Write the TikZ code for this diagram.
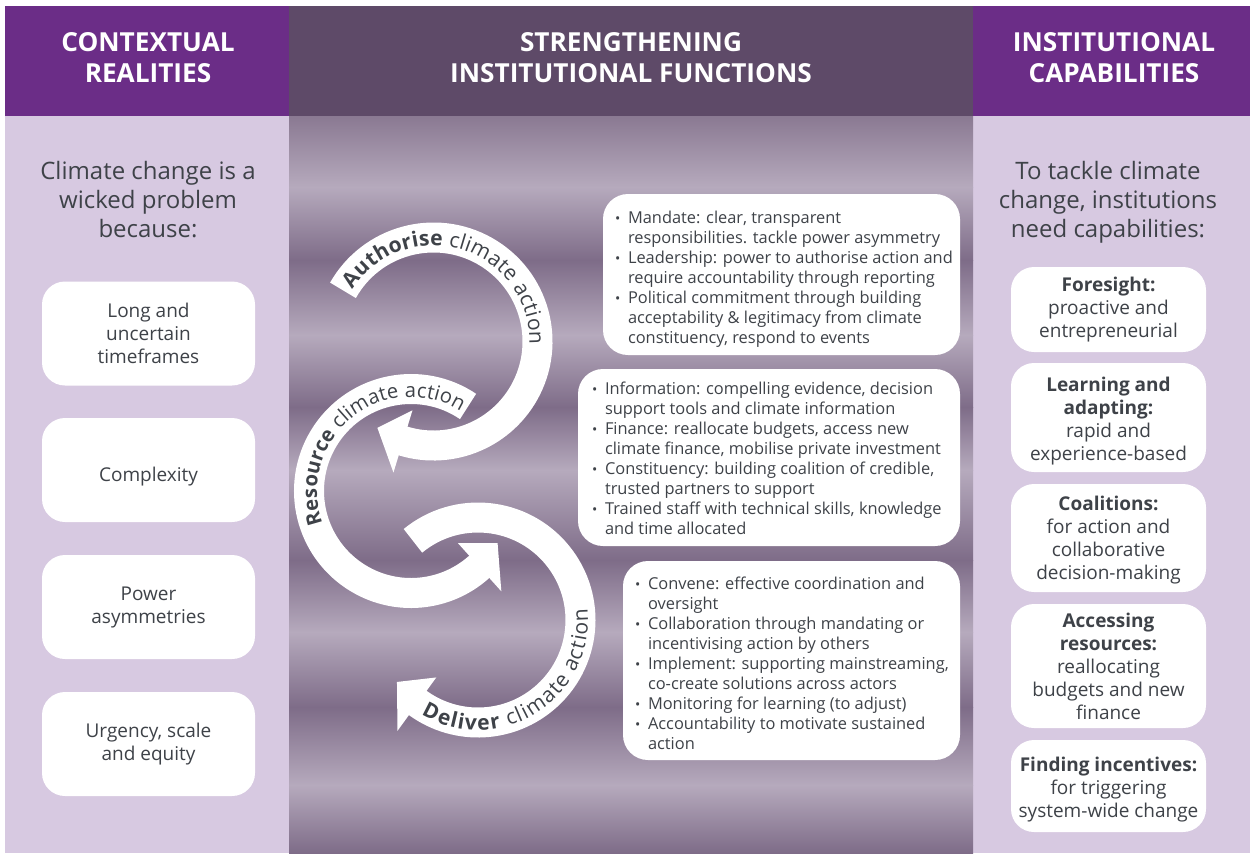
\documentclass[tikz,border=0pt]{standalone}
\usepackage{fontspec}
\setmainfont{Open Sans}
\usetikzlibrary{decorations.text}
\definecolor{hdrpurple}{RGB}{107,45,135}
\definecolor{hdrmid}{RGB}{94,74,104}
\definecolor{sidefill}{RGB}{215,201,225}
\definecolor{bandD}{RGB}{126,108,136}
\definecolor{bandL}{RGB}{182,170,189}
\definecolor{bandT}{RGB}{138,121,146}
\definecolor{txt}{RGB}{62,66,72}
\newcommand{\bul}{\makebox[6.5pt][l]{\scriptsize\textbullet}}
\newcommand{\ind}{\hspace*{6.5pt}}
\newcommand{\arcfont}{\fontsize{10.5}{12}\selectfont}
\newcommand{\arcfontb}{\fontsize{10.1}{12}\selectfont}
\begin{document}
\begin{tikzpicture}[x=0.5pt,y=-0.5pt,
  hdr/.style={text=white, font=\fontsize{13.1}{15.5}\selectfont\bfseries, align=center},
  ttl/.style={text=txt, font=\fontsize{12}{14.5}\selectfont, align=center},
  sbox/.style={fill=white, rounded corners=11.5pt, minimum width=106.5pt, minimum height=52pt, text=txt, font=\fontsize{9.5}{11.5}\selectfont, align=center, inner sep=0pt},
  rbox/.style={fill=white, rounded corners=11.5pt, minimum width=97.5pt, text=txt, font=\fontsize{9.5}{11.5}\selectfont, align=center, inner sep=0pt},
  mbox/.style={fill=white, rounded corners=12.5pt, inner sep=0pt},
  mtext/.style={text=txt, font=\fontsize{8.2}{10}\selectfont, align=left, inner sep=0pt, anchor=west},
  band/.style={draw=white, line width=15pt},
  head/.style={fill=white}
]
\useasboundingbox (0,0) rectangle (1253,853);
\fill[white] (0,0) rectangle (1253,853);
% column backgrounds
\fill[hdrpurple] (5,6) rectangle (289,116);
\fill[hdrmid] (289,6) rectangle (973,116);
\fill[hdrpurple] (973,6) rectangle (1250,116);
\fill[sidefill] (5,116) rectangle (289,853);
\fill[sidefill] (973,116) rectangle (1250,853);
% striped middle background
\shade[top color=bandT, bottom color=bandL] (289,116) rectangle (973,187.5);
\shade[top color=bandL, bottom color=bandD] (289,187) rectangle (973,260.5);
\shade[top color=bandD, bottom color=bandL] (289,260) rectangle (973,335.5);
\shade[top color=bandL, bottom color=bandD] (289,335) rectangle (973,407.5);
\shade[top color=bandD, bottom color=bandL] (289,407) rectangle (973,470.5);
\shade[top color=bandL, bottom color=bandD] (289,470) rectangle (973,560.5);
\shade[top color=bandD, bottom color=bandL] (289,560) rectangle (973,632.5);
\shade[top color=bandL, bottom color=bandD] (289,632) rectangle (973,707.5);
\shade[top color=bandD, bottom color=bandL] (289,707) rectangle (973,785.5);
\shade[top color=bandL, bottom color=bandD] (289,785) rectangle (973,853);
% headers
\node[hdr] (h1) at (148,58) {CONTEXTUAL\\REALITIES};
\node[hdr] (h2) at (631,58) {STRENGTHENING\\INSTITUTIONAL FUNCTIONS};
\node[hdr] (h3) at (1114,58) {INSTITUTIONAL\\CAPABILITIES};
% titles
\node[ttl] (t1) at (148,200) {Climate change is a\\wicked problem\\because:};
\node[ttl] (t3) at (1108,202) {To tackle climate\\change, institutions\\need capabilities:};
% left boxes
\node[sbox] (l1) at (148.5,333.5) {Long and\\uncertain\\timeframes};
\node[sbox] (l2) at (148.5,470) {\raisebox{-5.6pt}[0pt][0pt]{Complexity}};
\node[sbox] (l3) at (148.5,607) {Power\\asymmetries};
\node[sbox] (l4) at (148.5,744) {Urgency, scale\\and equity};
% right boxes
\node[rbox, minimum height=42.5pt] (r1) at (1108.5,309.5) {\textbf{Foresight:}\\proactive and\\entrepreneurial};
\node[rbox, minimum height=54.5pt] (r2) at (1108.5,417.5) {\rule{0pt}{10.5pt}\textbf{Learning and}\\\textbf{adapting:}\\rapid and\\experience-based};
\node[rbox, minimum height=54pt] (r3) at (1108.5,538) {\rule{0pt}{9.5pt}\textbf{Coalitions:}\\for action and\\collaborative\\decision-making};
\node[rbox, minimum height=62pt] (r4) at (1108.5,666) {\textbf{Accessing}\\\textbf{resources:}\\reallocating\\budgets and new\\finance};
\node[rbox, minimum height=46pt] (r5) at (1108.5,786) {\rule{0pt}{10.5pt}\textbf{Finding incentives:}\\for triggering\\system-wide change};
% middle boxes
\node[mbox, minimum width=178.5pt, minimum height=80.5pt] (m1) at (781.5,274.5) {};
\node[mbox, minimum width=191pt, minimum height=88.5pt] (m2) at (769,457.5) {};
\node[mbox, minimum width=168.5pt, minimum height=99.5pt] (m3) at (791.5,660.5) {};
\node[mtext] (m1t) at ([xshift=6pt,yshift=-2.5pt]m1.west) {\bul Mandate: clear, transparent\\\ind responsibilities. tackle power asymmetry\\\bul Leadership: power to authorise action and\\\ind require accountability through reporting\\\bul Political commitment through building\\\ind acceptability \& legitimacy from climate\\\ind constituency, respond to events};
\node[mtext] (m2t) at ([xshift=7pt,yshift=-0.5pt]m2.west) {\bul Information: compelling evidence, decision\\\ind support tools and climate information\\\bul Finance: reallocate budgets, access new\\\ind climate finance, mobilise private investment\\\bul Constituency: building coalition of credible,\\\ind trusted partners to support\\\bul Trained staff with technical skills, knowledge\\\ind and time allocated};
\node[mtext] (m3t) at ([xshift=6pt,yshift=-1.5pt]m3.west) {\bul Convene: effective coordination and\\\ind oversight\\\bul Collaboration through mandating or\\\ind incentivising action by others\\\bul Implement: supporting mainstreaming,\\\ind co-create solutions across actors\\\bul Monitoring for learning (to adjust)\\\bul Accountability to motivate sustained\\\ind action};
% curved arrows
\coordinate (c1) at (433.5,341.5);
\coordinate (c2) at (411,491);
\coordinate (c3) at (478,620);
\draw[band] ([shift={(209.5:104)}]c1) arc[start angle=209.5, end angle=469, radius=104];
\fill[head] ([shift={(467:72)}]c1) -- ([shift={(483:103)}]c1) -- ([shift={(467:137)}]c1) -- cycle;
\draw[band] ([shift={(304:102)}]c2) arc[start angle=304, end angle=46, radius=102];
\fill[head] ([shift={(48:70)}]c2) -- ([shift={(31:101)}]c2) -- ([shift={(48:135)}]c2) -- cycle;
\draw[band] ([shift={(230.6:102.5)}]c3) arc[start angle=230.6, end angle=488, radius=102.5];
\fill[head] ([shift={(486:71)}]c3) -- ([shift={(502.6:102)}]c3) -- ([shift={(486:137)}]c3) -- cycle;
% texts along arrows
\path[decorate, decoration={text along path, text align=fit to path, text color=txt, text={|\arcfont\bfseries|Authorise |\arcfont\mdseries|climate action}}] ([shift={(213:96)}]c1) arc[start angle=213, end angle=362, radius=96];
\path[decorate, decoration={text along path, text align=fit to path, text color=txt, text={|\arcfontb\bfseries|Resource |\arcfontb\mdseries|climate action}}] ([shift={(160:94)}]c2) arc[start angle=160, end angle=302, radius=94];
\path[decorate, decoration={text along path, text align=fit to path, text color=txt, text={|\arcfont\bfseries|Deliver |\arcfont\mdseries|climate action}}] ([shift={(121:110)}]c3) arc[start angle=121, end angle=-6, radius=110];
\end{tikzpicture}
\end{document}
